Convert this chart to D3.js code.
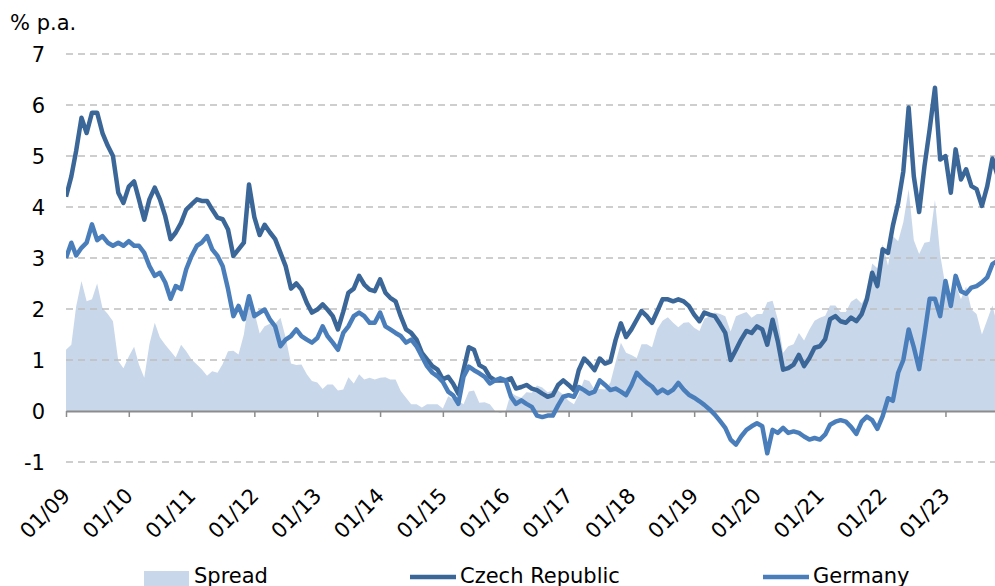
<!DOCTYPE html>
<html>
<head>
<meta charset="utf-8">
<script src="https://cdn.jsdelivr.net/npm/d3@7/dist/d3.min.js"></script>
<style>
  body { margin: 0; background: #fff; }
  text { font-family: "DejaVu Sans", Verdana, sans-serif; fill: #000; }
</style>
</head>
<body>
<script>
// monthly yields, Jan 2009 onwards (% p.a.)
const czech = [
  4.2, 4.6, 5.1, 5.75, 5.45, 5.85, 5.85, 5.45, 5.2, 5.0, 4.28, 4.08,
  4.4, 4.5, 4.15, 3.75, 4.15, 4.38, 4.15, 3.82, 3.37, 3.5, 3.69, 3.95,
  4.05, 4.15, 4.12, 4.12, 3.95, 3.79, 3.76, 3.56, 3.04, 3.17, 3.3, 4.44,
  3.8, 3.45, 3.65, 3.5, 3.37, 3.1, 2.84, 2.4, 2.5, 2.38, 2.12, 1.93,
  1.99, 2.09, 1.99, 1.86, 1.6, 1.95, 2.32, 2.4, 2.65, 2.48, 2.38, 2.35,
  2.58, 2.32, 2.22, 2.15, 1.86, 1.6, 1.53, 1.4, 1.14, 1.01, 0.88, 0.81,
  0.62, 0.67, 0.54, 0.34, 0.8, 1.25, 1.2, 0.9, 0.84, 0.67, 0.6, 0.6,
  0.6, 0.64, 0.44, 0.47, 0.51, 0.44, 0.41, 0.34, 0.28, 0.31, 0.51, 0.6,
  0.51, 0.41, 0.8, 1.03, 0.93, 0.8, 1.03, 0.93, 0.97, 1.39, 1.72, 1.45,
  1.6, 1.79, 1.96, 1.86, 1.73, 1.96, 2.19, 2.19, 2.15, 2.19, 2.15, 2.06,
  1.89, 1.76, 1.93, 1.89, 1.86, 1.7, 1.53, 1.0, 1.2, 1.4, 1.57, 1.53,
  1.66, 1.6, 1.3, 1.79, 1.37, 0.81, 0.84, 0.91, 1.1, 0.88, 1.04, 1.24,
  1.27, 1.41, 1.8, 1.86, 1.76, 1.73, 1.83, 1.76, 1.9, 2.19, 2.71, 2.45,
  3.17, 3.1, 3.63, 4.08, 4.7, 5.95, 4.6, 3.9, 4.8, 5.52, 6.34, 4.93,
  5.0, 4.28, 5.13, 4.54, 4.74, 4.41, 4.35, 4.02, 4.41, 4.95, 4.6
];
const germany = [
  3.0, 3.3, 3.05, 3.2, 3.3, 3.66, 3.35, 3.43, 3.3, 3.24, 3.3, 3.24,
  3.33, 3.24, 3.24, 3.1, 2.84, 2.65, 2.71, 2.52, 2.2, 2.45, 2.39, 2.78,
  3.04, 3.24, 3.3, 3.43, 3.17, 3.04, 2.84, 2.39, 1.86, 2.06, 1.8, 2.25,
  1.86, 1.93, 1.99, 1.79, 1.66, 1.27, 1.4, 1.47, 1.6, 1.47, 1.4, 1.34,
  1.43, 1.66, 1.47, 1.34, 1.2, 1.53, 1.66, 1.86, 1.93, 1.86, 1.73, 1.73,
  1.93, 1.66, 1.6, 1.53, 1.47, 1.34, 1.4, 1.27, 1.07, 0.88, 0.75, 0.68,
  0.57, 0.38, 0.31, 0.14, 0.67, 0.87, 0.8, 0.74, 0.67, 0.54, 0.6, 0.64,
  0.6, 0.28, 0.14, 0.21, 0.14, 0.08, -0.09, -0.12, -0.09, -0.09, 0.11, 0.28,
  0.31, 0.28, 0.47, 0.41, 0.34, 0.38, 0.6, 0.51, 0.41, 0.44, 0.38, 0.31,
  0.5, 0.75, 0.65, 0.55, 0.48, 0.35, 0.42, 0.35, 0.42, 0.55, 0.42, 0.32,
  0.26, 0.19, 0.12, 0.03, -0.07, -0.2, -0.33, -0.56, -0.66, -0.5, -0.37, -0.3,
  -0.24, -0.3, -0.83, -0.37, -0.43, -0.33, -0.43, -0.4, -0.43, -0.5, -0.56, -0.53,
  -0.56, -0.46, -0.27, -0.21, -0.18, -0.21, -0.31, -0.45, -0.21, -0.11, -0.18, -0.35,
  -0.1, 0.25, 0.2, 0.75, 1.0, 1.6, 1.25, 0.82, 1.5, 2.2, 2.2, 1.86,
  2.55, 2.06, 2.65, 2.35, 2.3, 2.42, 2.45, 2.52, 2.62, 2.88, 2.95
];
const yTicks = [-1, 0, 1, 2, 3, 4, 5, 6, 7];
const seriesNames = ["Spread", "Czech Republic", "Germany"];
const colors = ["#c9d7ea", "#3b6698", "#4a7ebb"];

const width = 995, height = 586;
const plot = { left: 66, right: 995, top: 54, bottom: 462 };
const fontSize = 21;

const svg = d3.select("body").append("svg")
    .attr("width", width)
    .attr("height", height);

const data = czech.map((v, i) => ({
  date: new Date(2009, i, 1),
  cz: v,
  de: germany[i],
  spread: v - germany[i]
}));

const x = d3.scaleTime()
    .domain([new Date(2009, 0, 1), new Date(2023, 9, 16)])
    .range([plot.left, plot.right]);
const y = d3.scaleLinear()
    .domain([-1, 7])
    .range([plot.bottom, plot.top]);

svg.append("clipPath").attr("id", "clip")
  .append("rect")
    .attr("x", plot.left).attr("y", 0)
    .attr("width", plot.right - plot.left).attr("height", height);

// spread area
svg.append("path")
    .datum(data)
    .attr("clip-path", "url(#clip)")
    .attr("fill", colors[0])
    .attr("d", d3.area()
      .x(d => x(d.date))
      .y0(y(0))
      .y1(d => y(d.spread)));

// dashed gridlines
svg.selectAll(".grid")
  .data(yTicks.filter(t => t !== 0))
  .join("line")
    .attr("x1", plot.left).attr("x2", plot.right)
    .attr("y1", d => y(d)).attr("y2", d => y(d))
    .attr("stroke", "#bfbfbf")
    .attr("stroke-width", 1.5)
    .attr("stroke-dasharray", "7,5");

// y labels
svg.selectAll(".ylab")
  .data(yTicks)
  .join("text")
    .attr("x", 45)
    .attr("y", d => y(d))
    .attr("dy", "0.36em")
    .attr("text-anchor", "end")
    .attr("font-size", fontSize)
    .text(d => d);

svg.append("text")
    .attr("x", 10).attr("y", 30)
    .attr("font-size", fontSize)
    .text("% p.a.");

// x axis on the zero line
const xAxis = svg.append("g")
    .attr("transform", `translate(0,${y(0)})`)
    .call(d3.axisBottom(x)
      .tickValues(d3.timeYear.range(new Date(2009, 0, 1), new Date(2024, 0, 1)))
      .tickFormat(d3.timeFormat("%m/%y"))
      .tickSizeInner(6)
      .tickSizeOuter(0));
xAxis.select(".domain").attr("stroke", "#8c8c8c").attr("stroke-width", 2);
xAxis.selectAll(".tick line").attr("stroke", "#8c8c8c").attr("stroke-width", 1.5);
xAxis.selectAll(".tick text")
    .attr("x", 0).attr("y", 0).attr("dy", 0)
    .attr("text-anchor", "end")
    .attr("font-size", fontSize)
    .attr("font-family", "DejaVu Sans, Verdana, sans-serif")
    .attr("fill", "#000")
    .attr("transform", "translate(5,86) rotate(-45)");

// lines
const lineCz = d3.line().x(d => x(d.date)).y(d => y(d.cz));
const lineDe = d3.line().x(d => x(d.date)).y(d => y(d.de));

svg.append("path")
    .datum(data)
    .attr("clip-path", "url(#clip)")
    .attr("fill", "none")
    .attr("stroke", colors[1])
    .attr("stroke-width", 4.5)
    .attr("stroke-linejoin", "round")
    .attr("d", lineCz);

svg.append("path")
    .datum(data)
    .attr("clip-path", "url(#clip)")
    .attr("fill", "none")
    .attr("stroke", colors[2])
    .attr("stroke-width", 4.5)
    .attr("stroke-linejoin", "round")
    .attr("d", lineDe);

// legend
const legendX = [144, 410, 763];
const legendY = 577;
seriesNames.forEach((name, i) => {
  if (i === 0) {
    svg.append("rect")
        .attr("x", legendX[i]).attr("y", legendY - 6)
        .attr("width", 45).attr("height", 16)
        .attr("fill", colors[i]);
  } else {
    svg.append("line")
        .attr("x1", legendX[i]).attr("x2", legendX[i] + 46)
        .attr("y1", legendY).attr("y2", legendY)
        .attr("stroke", colors[i])
        .attr("stroke-width", 4.5);
  }
  svg.append("text")
      .attr("x", legendX[i] + 50)
      .attr("y", legendY + 5.5)
      .attr("font-size", fontSize)
      .text(name);
});
</script>
</body>
</html>
